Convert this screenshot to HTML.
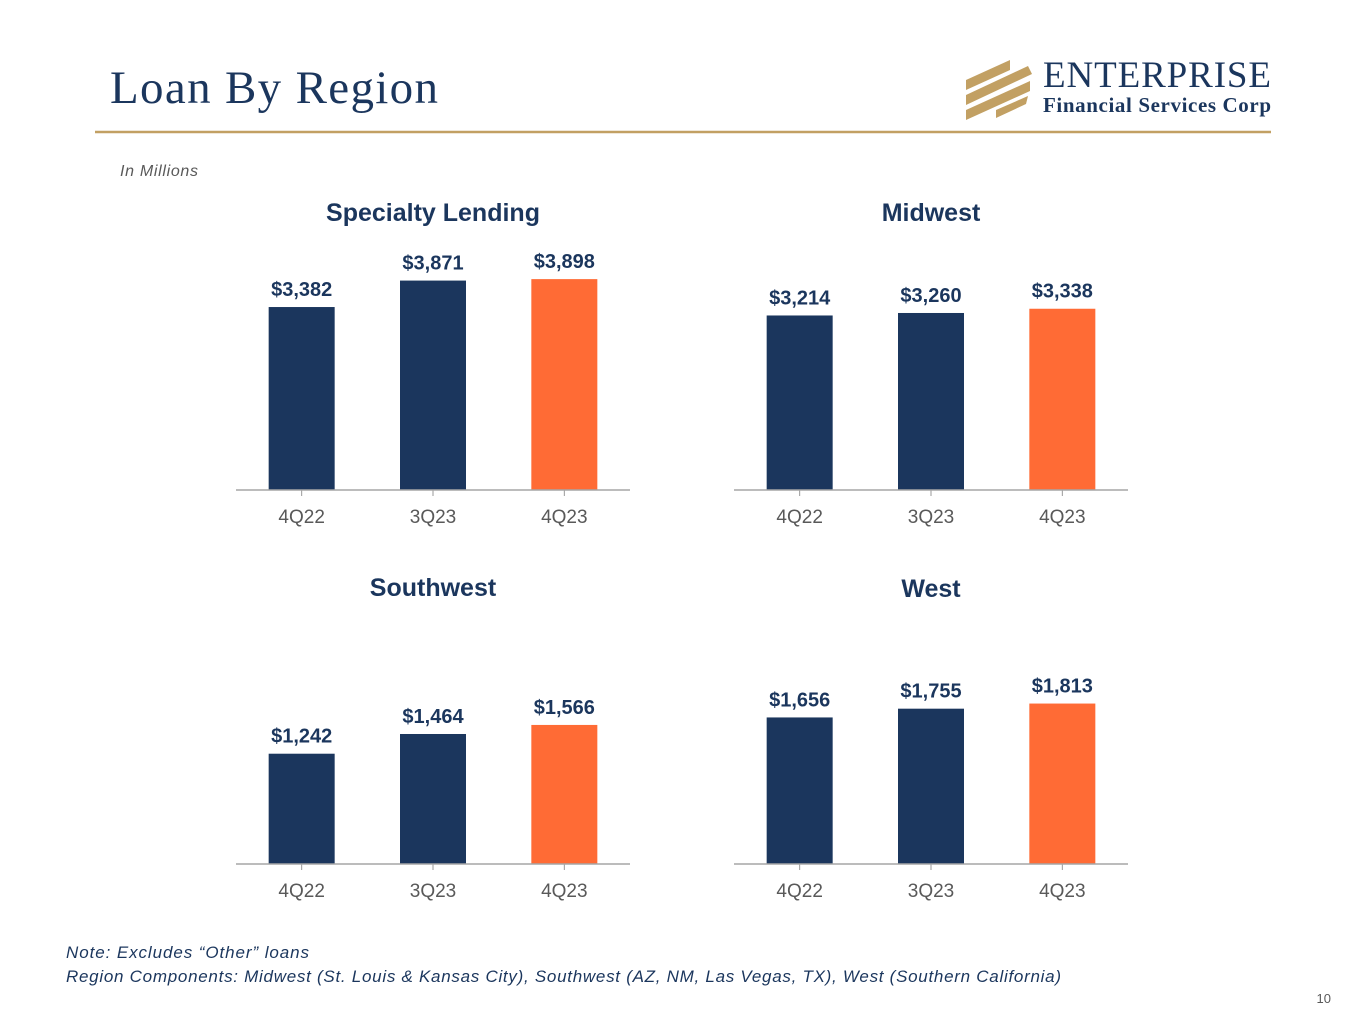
<!DOCTYPE html>
<html><head><meta charset="utf-8"><style>
body{margin:0;background:#fff;}
svg{display:block;}
</style></head><body>
<svg id="s" width="1365" height="1024" viewBox="0 0 1365 1024" xmlns="http://www.w3.org/2000/svg">
<text x="110" y="103" font-family="Liberation Serif, serif" font-size="47" fill="#1b365d" textLength="328">Loan By Region</text>
<g>
<polygon points="966,80 1010,60 1010,70 966,90" fill="#c2a063"/>
<polygon points="966,95 1028,66 1032,74 966,105" fill="#c2a063"/>
<polygon points="966,110 1030,81 1030,91 966,120" fill="#c2a063"/>
<polygon points="996,110 1028,96 1026,104 996,118" fill="#c2a063"/>
<text x="1043" y="87" font-family="Liberation Serif, serif" font-size="37" fill="#1b365d" textLength="228">ENTERPRISE</text>
<text x="1043" y="112" font-family="Liberation Serif, serif" font-weight="bold" font-size="21" fill="#1b365d" textLength="228">Financial Services Corp</text>
</g>
<line x1="95" y1="132" x2="1271" y2="132" stroke="#c2a063" stroke-width="2.5"/>
<text x="120" y="176" font-family="Liberation Sans, sans-serif" font-style="italic" font-size="16" fill="#595959" textLength="78">In Millions</text>
<text x="66" y="958" font-family="Liberation Sans, sans-serif" font-style="italic" font-size="17" fill="#1b365d" textLength="243">Note: Excludes “Other” loans</text>
<text x="66" y="982" font-family="Liberation Sans, sans-serif" font-style="italic" font-size="17" fill="#1b365d" textLength="995">Region Components: Midwest (St. Louis &amp; Kansas City), Southwest (AZ, NM, Las Vegas, TX), West (Southern California)</text>
<text x="1331" y="1003" text-anchor="end" font-family="Liberation Sans, sans-serif" font-size="13" fill="#595959">10</text>
<g id="charts"></g>
</svg>
<script>
const categories = ["4Q22","3Q23","4Q23"];
const titles = ["Specialty Lending","Midwest","Southwest","West"];
const specialtyValues = [3382,3871,3898];
const midwestValues = [3214,3260,3338];
const southwestValues = [1242,1464,1566];
const westValues = [1656,1755,1813];
const seriesList = [specialtyValues, midwestValues, southwestValues, westValues];
const NS = "http://www.w3.org/2000/svg";
const root = document.getElementById('charts');
const layout = [
  {x0:236, base:490, titleY:221, scale:0.0541},
  {x0:734, base:490, titleY:221, scale:0.0543},
  {x0:236, base:864, titleY:596, scale:0.0888},
  {x0:734, base:864, titleY:597, scale:0.0885}
];
function mk(tag, attrs){const e=document.createElementNS(NS,tag);for(const k in attrs)e.setAttribute(k,attrs[k]);return e;}
seriesList.forEach((vals, ci)=>{
  const L = layout[ci];
  const g = mk('g',{});
  
  
  root.appendChild(g);
  const width = 394, band = width/categories.length;
  const xc = i => L.x0 + band*(i+0.5);
  const yv = v => L.base - v*L.scale;
  const t = mk('text',{x:L.x0+width/2,y:L.titleY,'text-anchor':'middle','font-family':'Liberation Sans, sans-serif','font-weight':'bold','font-size':'25',fill:'#1b365d'});
  t.textContent = titles[ci];
  
  
  g.appendChild(t);
  vals.forEach((v,i)=>{
    const r = mk('rect',{x:xc(i)-33,y:yv(v),width:66,height:L.base-yv(v),fill: i===vals.length-1?'#ff6b35':'#1b365d'});
    
    
    g.appendChild(r);
    const lb = mk('text',{x:xc(i),y:yv(v)-11,'text-anchor':'middle','font-family':'Liberation Sans, sans-serif','font-weight':'bold','font-size':'20',fill:'#1b365d'});
    lb.textContent = '$' + v.toLocaleString('en-US');
    
    
    g.appendChild(lb);
    const tk = mk('line',{x1:xc(i),y1:L.base,x2:xc(i),y2:L.base+6,stroke:'#999','stroke-width':1});
    
    
    g.appendChild(tk);
    const cl = mk('text',{x:xc(i),y:L.base+33,'text-anchor':'middle','font-family':'Liberation Sans, sans-serif','font-size':'19',fill:'#595959'});
    cl.textContent = categories[i];
    
    
    g.appendChild(cl);
  });
  const ax = mk('line',{x1:L.x0,y1:L.base,x2:L.x0+width,y2:L.base,stroke:'#a6a6a6','stroke-width':1.5});
  
  
  g.appendChild(ax);
});
</script>
</body></html>
